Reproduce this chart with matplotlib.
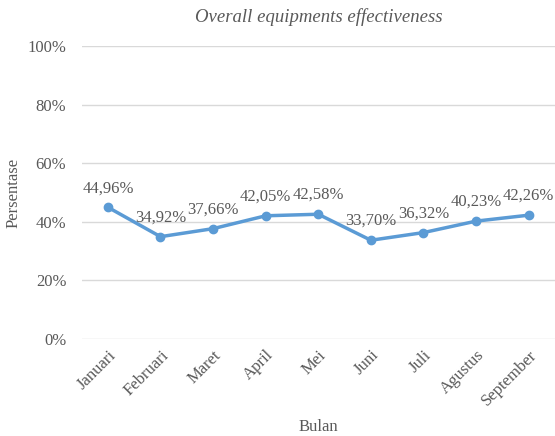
import matplotlib.pyplot as plt

plt.rcParams['font.family'] = ['Liberation Serif', 'DejaVu Serif']

bulan = ["Januari", "Februari", "Maret", "April", "Mei", "Juni", "Juli", "Agustus", "September"]
oee = [44.96, 34.92, 37.66, 42.05, 42.58, 33.70, 36.32, 40.23, 42.26]
yticks = [0, 20, 40, 60, 80, 100]

abu = '#595959'
biru = '#5B9BD5'

fig = plt.figure(figsize=(5.55, 4.36), dpi=100)
ax = fig.add_axes([0.147, 0.2225, 0.853, 0.672])

x = list(range(len(bulan)))
ax.plot(x, oee, color=biru, linewidth=2.5, marker='o', markersize=6, zorder=3)

# label persentase di atas titik
for xi, v in zip(x, oee):
    ax.annotate(f"{v:.2f}%".replace('.', ','), (xi, v), xytext=(0, 8),
                textcoords='offset points', ha='center', va='bottom',
                fontsize=12, color=abu)

ax.set_xlim(-0.5, len(bulan) - 0.5)
ax.set_ylim(0, 100)
ax.set_yticks(yticks)
ax.set_yticklabels([f"{t}%" for t in yticks])
ax.set_xticks(x)
ax.set_xticklabels(bulan, rotation=45, ha='right', rotation_mode='anchor')
ax.tick_params(length=0, colors=abu, labelsize=12)
ax.tick_params(axis='y', pad=11)
ax.tick_params(axis='x', pad=6)

ax.grid(axis='y', color='#D9D9D9', linewidth=1)
ax.set_axisbelow(True)
for s in ax.spines.values():
    s.set_visible(False)

ax.set_title("Overall equipments effectiveness", style='italic', fontsize=13.5,
             color=abu, pad=17)
ax.set_ylabel("Persentase", fontsize=12, color=abu, labelpad=4)
ax.set_xlabel("Bulan", fontsize=12, color=abu, labelpad=7)

fig.savefig("out.png", dpi=100)
